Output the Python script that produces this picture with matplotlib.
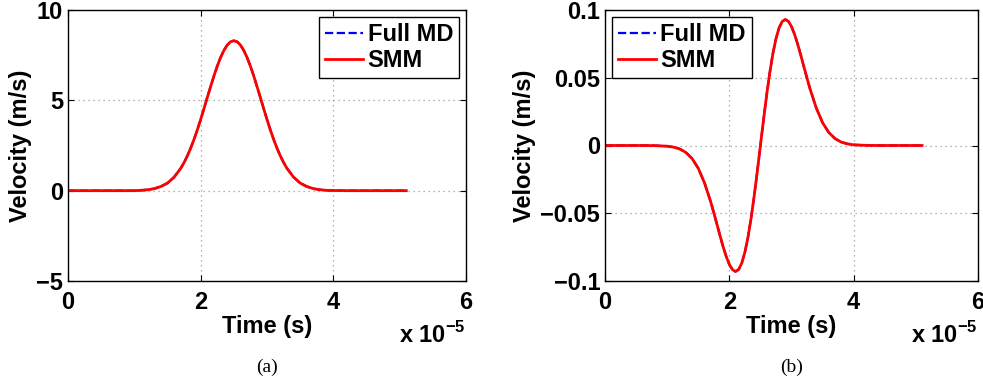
import matplotlib.pyplot as plt
from matplotlib.ticker import FuncFormatter
import numpy as np

plt.rcParams['font.family'] = ['Liberation Sans', 'DejaVu Sans']
plt.rcParams['font.weight'] = 'bold'
plt.rcParams['mathtext.fontset'] = 'custom'
plt.rcParams['mathtext.rm'] = 'Liberation Sans:bold'
plt.rcParams['mathtext.bf'] = 'Liberation Sans:bold'

# time in units of 1e-5 s
t_us = [0.0, 0.2, 0.4, 0.6, 0.8, 1.0,
        1.1, 1.2, 1.3, 1.4, 1.5, 1.6, 1.7,
        1.75, 1.8, 1.85, 1.9, 1.95, 2.0, 2.05, 2.1, 2.15, 2.2, 2.25, 2.3,
        2.35, 2.4, 2.45, 2.5,
        2.55, 2.6, 2.65, 2.7, 2.75, 2.8, 2.85, 2.9, 2.95, 3.0, 3.05, 3.1,
        3.15, 3.2, 3.25,
        3.3, 3.4, 3.5, 3.6, 3.7, 3.8, 3.9, 4.0,
        4.2, 4.4, 4.6, 4.8, 5.0, 5.1]

# (a) velocity pulse, m/s
vel_a_md = [0.0, 0.0, 0.0, 0.0, 0.0, 0.0,
            0.02, 0.05, 0.11, 0.23, 0.42, 0.75, 1.24,
            1.56, 1.93, 2.36, 2.84, 3.37, 3.94, 4.54, 5.16, 5.76, 6.35, 6.89,
            7.37, 7.76, 8.06, 8.24, 8.3,
            8.24, 8.06, 7.76, 7.37, 6.89, 6.35, 5.76, 5.16, 4.54, 3.94, 3.37,
            2.84, 2.36, 1.93, 1.56,
            1.24, 0.75, 0.42, 0.23, 0.11, 0.05, 0.02, 0.01,
            0.0, 0.0, 0.0, 0.0, 0.0, 0.0]
vel_a_smm = list(vel_a_md)

# (b) velocity, m/s
vel_b_md = [0.0, 0.0, 0.0, 0.0, -0.0001, -0.0005,
            -0.0012, -0.0025, -0.0051, -0.0096, -0.0168, -0.0275, -0.0415,
            -0.0496, -0.058, -0.0665, -0.0747, -0.0819, -0.0878, -0.0916,
            -0.093, -0.0915, -0.0868, -0.0788, -0.0677, -0.0536, -0.0372,
            -0.019, 0.0,
            0.019, 0.0372, 0.0536, 0.0677, 0.0788, 0.0868, 0.0915, 0.093,
            0.0916, 0.0878, 0.0819, 0.0747, 0.0665, 0.058, 0.0496,
            0.0415, 0.0275, 0.0168, 0.0096, 0.0051, 0.0025, 0.0012, 0.0005,
            0.0001, 0.0, 0.0, 0.0, 0.0, 0.0]
vel_b_smm = list(vel_b_md)

t = np.array(t_us) * 1e-5

fig = plt.figure(figsize=(9.83, 3.85), dpi=100)
ax1 = fig.add_axes([68 / 983, 104 / 385, 398 / 983, 271 / 385])
ax2 = fig.add_axes([605 / 983, 104 / 385, 373 / 983, 271 / 385])


def fmt_y(v, pos):
    s = '%g' % round(v, 6)
    return s.replace('-', '\u2212')


def fmt_x(v, pos):
    return '%g' % round(v / 1e-5, 6)


for ax, md, smm, ylim, yticks, loc, cap in [
        (ax1, vel_a_md, vel_a_smm, (-5, 10), [-5, 0, 5, 10], 'upper right', '(a)'),
        (ax2, vel_b_md, vel_b_smm, (-0.1, 0.1), [-0.1, -0.05, 0, 0.05, 0.1], 'upper left', '(b)')]:
    ax.plot(t, md, '--', color='blue', lw=1.6, label='Full MD')
    ax.plot(t, smm, '-', color='red', lw=2.0, label='SMM')
    ax.set_xlim(0, 6e-5)
    ax.set_ylim(*ylim)
    ax.set_xticks([0, 2e-5, 4e-5, 6e-5])
    ax.set_yticks(yticks)
    ax.xaxis.set_major_formatter(FuncFormatter(fmt_x))
    ax.yaxis.set_major_formatter(FuncFormatter(fmt_y))
    ax.tick_params(direction='in', length=4, labelsize=17, top=True, right=True)
    ax.tick_params(axis='x', pad=7)
    ax.grid(True, linestyle=(0, (1, 3)), color='#999999', lw=0.9)
    for sp in ax.spines.values():
        sp.set_linewidth(1.0)
    ax.set_xlabel('Time (s)', fontsize=17, fontweight='bold', labelpad=1)
    ax.set_ylabel('Velocity (m/s)', fontsize=17, fontweight='bold', labelpad=3)
    ax.text(1.0, -0.2, 'x 10$^{\\mathbf{-5}}$', transform=ax.transAxes,
            ha='right', va='center', fontsize=17, fontweight='bold')
    leg = ax.legend(loc=loc, fontsize=17, handlelength=1.6, handletextpad=0.2,
                    borderpad=0.25, labelspacing=0.12, borderaxespad=0.3,
                    fancybox=False, edgecolor='black', framealpha=1)
    leg.get_frame().set_linewidth(1.0)
    ax.text(0.5, -0.32, cap, transform=ax.transAxes, ha='center', va='center',
            fontsize=14, fontweight='normal', family='Liberation Serif')

fig.savefig('out.png', dpi=100)
